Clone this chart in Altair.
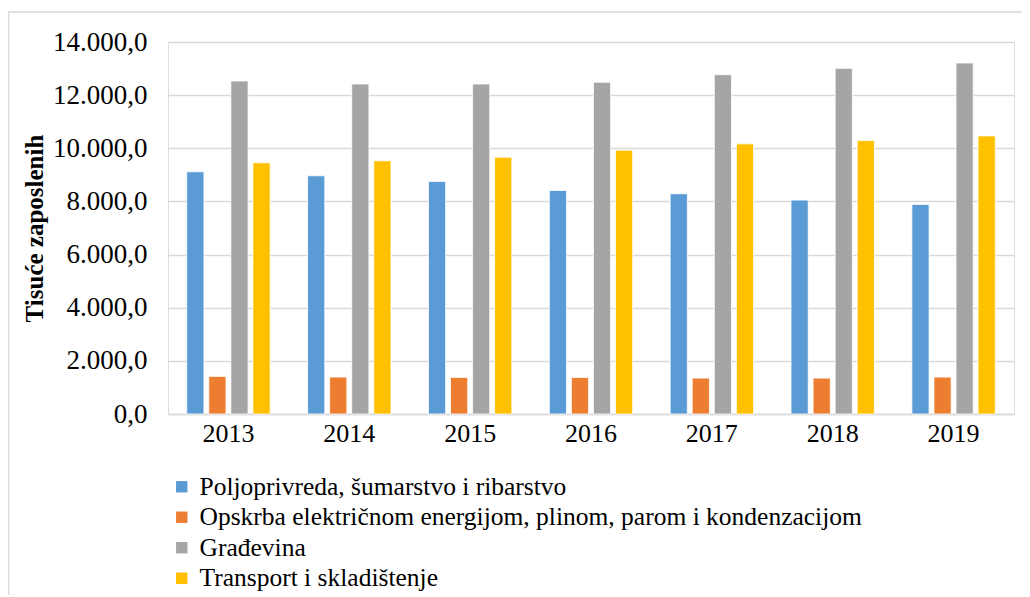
import altair as alt
import pandas as pd

years = ["2013", "2014", "2015", "2016", "2017", "2018", "2019"]
series = [
    "Poljoprivreda, šumarstvo i ribarstvo",
    "Opskrba električnom energijom, plinom, parom i kondenzacijom",
    "Građevina",
    "Transport i skladištenje",
]
poljoprivreda = [9115, 8965, 8752, 8414, 8288, 8050, 7888]
opskrba = [1415, 1390, 1377, 1377, 1352, 1352, 1390]
gradevina = [12533, 12420, 12420, 12483, 12770, 13008, 13209]
transport = [9453, 9528, 9666, 9928, 10166, 10291, 10467]
colors = ["#5B9BD5", "#ED7D31", "#A5A5A5", "#FFC000"]

rows = []
for s, vals in zip(series, [poljoprivreda, opskrba, gradevina, transport]):
    for y, v in zip(years, vals):
        rows.append({"Godina": y, "Serija": s, "Vrijednost": v})
df = pd.DataFrame(rows)

FONT = "Liberation Serif"
W, H = 846, 372

label_expr = ("replace(replace(replace(format(datum.value, ',.1f'), ',', '#'), '.', ','), '#', '.')")

bars = alt.Chart(df).mark_bar(stroke="white", strokeWidth=0.8).encode(
    x=alt.X("Godina:N", sort=years, title=None,
            scale=alt.Scale(paddingInner=0.31, paddingOuter=0.155),
            axis=alt.Axis(labelAngle=0, labelFont=FONT, labelFontSize=26,
                          labelColor="black", ticks=False, domain=True,
                          domainColor="#d9d9d9", domainWidth=1.3, labelPadding=6)),
    xOffset=alt.XOffset("Serija:N", sort=series,
                        scale=alt.Scale(paddingInner=0.22, paddingOuter=0)),
    y=alt.Y("Vrijednost:Q", title="Tisuće zaposlenih",
            scale=alt.Scale(domain=[0, 14000], nice=False),
            axis=alt.Axis(values=list(range(0, 14001, 2000)), labelExpr=label_expr,
                          labelFont=FONT, labelFontSize=27, labelColor="black",
                          ticks=False, domain=False, grid=True,
                          gridColor="#d9d9d9", gridWidth=1.3, labelPadding=21,
                          titleFont=FONT, titleFontSize=25, titleFontWeight="bold",
                          titleColor="black", titlePadding=5)),
    color=alt.Color("Serija:N", sort=series,
                    scale=alt.Scale(domain=series, range=colors),
                    legend=alt.Legend(title=None, orient="none", legendX=1, legendY=432,
                                      direction="vertical", symbolType="square",
                                      symbolSize=130, symbolStrokeWidth=0,
                                      labelFont=FONT, labelFontSize=25.5,
                                      labelColor="black", rowPadding=3.5,
                                      symbolOffset=0, labelOffset=5,
                                      labelLimit=900)),
)

border = alt.Chart(pd.DataFrame({"a": [0]})).mark_rect(
    fill=None, stroke="#d9d9d9", strokeWidth=1.5, clip=False
).encode(
    x=alt.value(-159.5), x2=alt.value(1000),
    y=alt.value(-30), y2=alt.value(800),
)

chart = alt.layer(border, bars).properties(
    width=W, height=H,
    autosize=alt.AutoSizeParams(type="none"),
    padding={"left": 160, "top": 34, "right": 8, "bottom": 181},
).configure_view(stroke=None).configure(
    background="white", font=FONT,
    style={"guide-label": {"font": FONT}, "guide-title": {"font": FONT}},
).configure_legend(
    labelFont=FONT, labelFontSize=25.5, labelColor="black"
)

chart.save("out.html", embed_options={"renderer": "svg", "actions": False})
